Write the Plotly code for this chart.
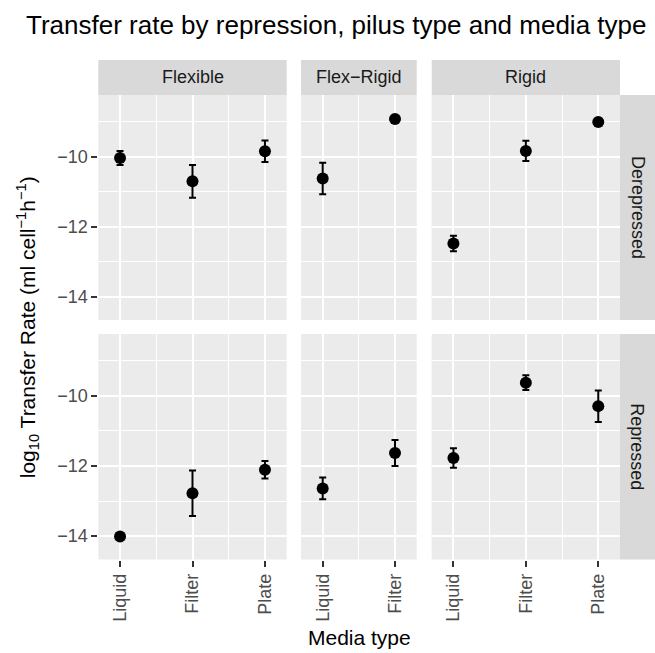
import plotly.graph_objects as go

# ---- data ----
pilus_types = ["Flexible", "Flex\u2212Rigid", "Rigid"]
repression_levels = ["Derepressed", "Repressed"]
media_flexible = ["Liquid", "Filter", "Plate"]
media_flexrigid = ["Liquid", "Filter"]
media_rigid = ["Liquid", "Filter", "Plate"]

repression = ["Derepressed"] * 8 + ["Repressed"] * 8
pilus = (["Flexible"] * 3 + ["Flex\u2212Rigid"] * 2 + ["Rigid"] * 3) * 2
media = ["Liquid", "Filter", "Plate", "Liquid", "Filter", "Liquid", "Filter", "Plate"] * 2
log_rate = [-10.03, -10.70, -9.84, -10.62, -8.92, -12.48, -9.83, -9.00,
            -14.01, -12.78, -12.11, -12.64, -11.63, -11.77, -9.62, -10.29]
log_se = [0.20, 0.47, 0.31, 0.45, 0.05, 0.22, 0.29, 0.05,
          0.05, 0.65, 0.25, 0.31, 0.37, 0.28, 0.21, 0.45]

media_per_pilus = {"Flexible": media_flexible, "Flex\u2212Rigid": media_flexrigid, "Rigid": media_rigid}

# ---- layout geometry (pixels) ----
W, H = 655, 653
col_px = [(98.3, 286.7), (301.0, 416.7), (431.7, 620.0)]
row_px = [(95.0, 320.0), (334.0, 559.5)]
strip = 35
y_range = [-14.67, -8.23]

def px_x(v):
    return v / W

def px_y(v):
    return 1 - v / H

FONT = "Liberation Sans, Arial, Helvetica, sans-serif"
TICK_SIZE = 18
fig = go.Figure()
layout = dict(
    width=W, height=H, margin=dict(l=0, r=0, t=0, b=0),
    paper_bgcolor="white", plot_bgcolor="#EBEBEB", showlegend=False,
    font=dict(family=FONT, color="#4D4D4D"),
)

for r, rep in enumerate(repression_levels):
    for c, pt in enumerate(pilus_types):
        idx = r * 3 + c + 1
        cats = media_per_pilus[pt]
        xs, ys, es = [], [], []
        for rp, pl, m, v, e in zip(repression, pilus, media, log_rate, log_se):
            if rp == rep and pl == pt:
                xs.append(cats.index(m))
                ys.append(v)
                es.append(e)
        sfx = "" if idx == 1 else str(idx)
        fig.add_trace(go.Scatter(
            x=xs, y=ys, mode="markers", xaxis="x" + sfx, yaxis="y" + sfx,
            marker=dict(color="black", size=12),
            error_y=dict(type="data", array=es, visible=True, color="black",
                         thickness=2, width=3.5),
            hoverinfo="skip",
        ))
        x0, x1 = col_px[c]
        y0, y1 = row_px[r]
        layout["xaxis" + sfx] = dict(
            domain=[px_x(x0), px_x(x1)], anchor="y" + sfx,
            range=[-0.3, len(cats) - 0.7], tickvals=list(range(len(cats))),
            ticktext=cats, showticklabels=(r == 1), ticks="outside" if r == 1 else "",
            ticklen=6, tickwidth=2, tickcolor="#333333", tickangle=-90,
            tickfont=dict(size=TICK_SIZE, color="#4D4D4D", family=FONT),
            showgrid=True, gridcolor="white", gridwidth=2, zeroline=False,
            showline=False,
            minor=dict(tick0=0.5, dtick=1, showgrid=True, gridcolor="white", gridwidth=1),
        )
        layout["yaxis" + sfx] = dict(
            domain=[px_y(y1), px_y(y0)], anchor="x" + sfx, range=y_range,
            tickvals=[-14, -12, -10], showticklabels=(c == 0),
            ticks="outside" if c == 0 else "", ticklen=6, tickwidth=2, tickcolor="#333333",
            tickfont=dict(size=TICK_SIZE, color="#4D4D4D", family=FONT),
            showgrid=True, gridcolor="white", gridwidth=2, zeroline=False, showline=False,
            minor=dict(tick0=-9, dtick=2, showgrid=True, gridcolor="white", gridwidth=1),
        )

shapes = []
annotations = []
# top strips
for c, pt in enumerate(pilus_types):
    x0, x1 = col_px[c]
    shapes.append(dict(type="rect", xref="paper", yref="paper", x0=px_x(x0), x1=px_x(x1),
                       y0=px_y(row_px[0][0]), y1=px_y(row_px[0][0] - strip),
                       fillcolor="#D9D9D9", line=dict(width=0), layer="below"))
    annotations.append(dict(text=pt, xref="paper", yref="paper", x=px_x((x0 + x1) / 2),
                            y=px_y(row_px[0][0] - strip / 2), showarrow=False,
                            font=dict(size=18, color="#1A1A1A", family=FONT),
                            xanchor="center", yanchor="middle"))
# right strips
for r, rep in enumerate(repression_levels):
    y0, y1 = row_px[r]
    xs0 = col_px[2][1]
    shapes.append(dict(type="rect", xref="paper", yref="paper", x0=px_x(xs0), x1=px_x(xs0 + strip),
                       y0=px_y(y1), y1=px_y(y0), fillcolor="#D9D9D9", line=dict(width=0), layer="below"))
    annotations.append(dict(text=rep, xref="paper", yref="paper", x=px_x(xs0 + strip / 2),
                            y=px_y((y0 + y1) / 2), showarrow=False, textangle=90,
                            font=dict(size=18, color="#1A1A1A", family=FONT),
                            xanchor="center", yanchor="middle"))

# title
annotations.append(dict(text="Transfer rate by repression, pilus type and media type",
                        xref="paper", yref="paper", x=px_x(24), y=px_y(25), showarrow=False,
                        xanchor="left", yanchor="middle",
                        font=dict(size=26, color="black", family=FONT)))
# axis titles
annotations.append(dict(text="Media type", xref="paper", yref="paper",
                        x=px_x((col_px[0][0] + col_px[2][1]) / 2), y=px_y(637), showarrow=False,
                        xanchor="center", yanchor="middle",
                        font=dict(size=21, color="black", family=FONT)))
annotations.append(dict(text="log<sub>10</sub> Transfer Rate (ml cell<sup>\u22121</sup>h<sup>\u22121</sup>)",
                        xref="paper", yref="paper", x=px_x(27),
                        y=px_y((row_px[0][0] + row_px[1][1]) / 2), showarrow=False,
                        textangle=-90, xanchor="center", yanchor="middle",
                        font=dict(size=21, color="black", family=FONT)))

layout["shapes"] = shapes
layout["annotations"] = annotations
fig.update_layout(**layout)
fig.write_html("out.html")
